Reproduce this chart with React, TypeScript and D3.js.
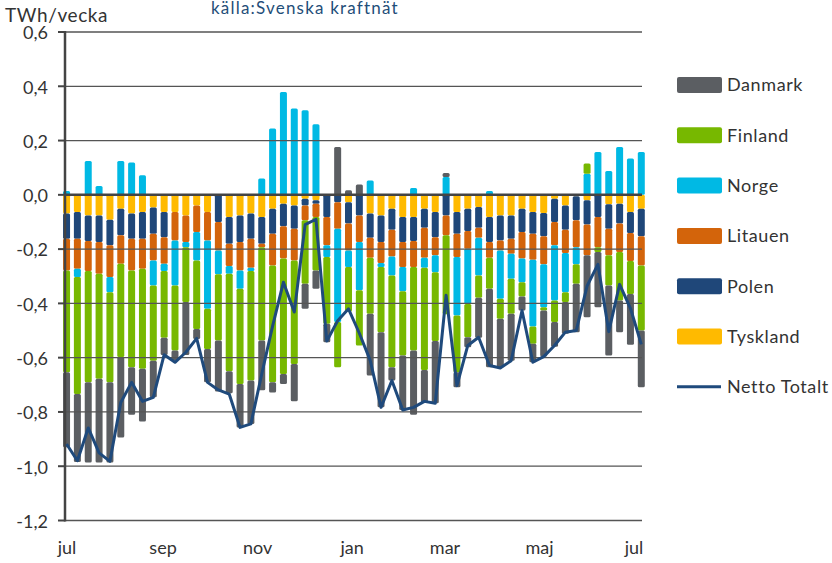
import * as d3 from "d3";

// veckor (måndag/tisdag-datum), jul 2019 - jul 2020
const weeks = [
  "2019-07-02", "2019-07-09", "2019-07-16", "2019-07-23", "2019-07-30",
  "2019-08-06", "2019-08-13", "2019-08-20", "2019-08-27",
  "2019-09-03", "2019-09-10", "2019-09-17", "2019-09-24",
  "2019-10-01", "2019-10-08", "2019-10-15", "2019-10-22", "2019-10-29",
  "2019-11-05", "2019-11-12", "2019-11-19", "2019-11-26",
  "2019-12-03", "2019-12-10", "2019-12-17", "2019-12-24", "2019-12-31",
  "2020-01-07", "2020-01-14", "2020-01-21", "2020-01-28",
  "2020-02-04", "2020-02-11", "2020-02-18", "2020-02-25",
  "2020-03-03", "2020-03-10", "2020-03-17", "2020-03-24", "2020-03-31",
  "2020-04-07", "2020-04-14", "2020-04-21", "2020-04-28",
  "2020-05-05", "2020-05-12", "2020-05-19", "2020-05-26",
  "2020-06-02", "2020-06-09", "2020-06-16", "2020-06-23", "2020-06-30",
  "2020-07-07",
];

const tyskland = [
  -0.069, -0.063, -0.076, -0.076, -0.092, -0.051, -0.069, -0.063, -0.047, -0.063,
  -0.063, -0.076, -0.039, -0.063, 0, -0.082, -0.076, -0.069, -0.082, -0.051,
  -0.033, -0.039, -0.014, -0.02, 0, 0, -0.027, 0, -0.069, -0.076,
  -0.051, -0.082, -0.082, -0.051, -0.063, 0, -0.063, -0.051, -0.045, -0.082,
  -0.076, -0.076, -0.051, -0.063, -0.067, -0.014, -0.039, -0.005, -0.02, 0,
  -0.035, -0.033, -0.063, -0.051,
];
const polen = [
  -0.093, -0.099, -0.094, -0.098, -0.094, -0.098, -0.093, -0.099, -0.096, -0.093,
  0, 0, 0, 0, -0.1, -0.098, -0.098, -0.093, -0.098, -0.092,
  -0.083, -0.086, -0.025, -0.013, -0.082, -0.027, -0.079, -0.076, -0.089, -0.098,
  -0.078, -0.092, -0.088, -0.07, -0.093, -0.076, -0.08, -0.082, -0.076, -0.092,
  -0.092, -0.086, -0.086, -0.08, -0.086, -0.086, -0.09, -0.089, -0.089, -0.082,
  -0.09, -0.073, -0.078, -0.102,
];
const litauen = [
  -0.117, -0.11, -0.111, -0.117, -0.117, -0.105, -0.117, -0.11, -0.099, -0.098,
  -0.105, -0.098, -0.098, -0.105, -0.105, -0.082, -0.105, -0.107, -0.013, -0.117,
  -0.119, -0.117, -0.055, -0.049, -0.104, -0.098, -0.099, -0.098, -0.074, -0.077,
  -0.098, -0.092, -0.096, -0.111, -0.067, -0.073, -0.086, -0.066, -0.037, -0.058,
  -0.037, -0.055, -0.098, -0.096, -0.103, -0.086, -0.085, -0.099, -0.114, -0.111,
  -0.098, -0.105, -0.103, -0.107,
];
const norge = [
  0.014, -0.031, 0.125, 0.033, -0.056, 0.125, 0.119, 0.072, -0.092, -0.027,
  -0.166, -0.019, -0.105, -0.252, -0.088, -0.029, -0.067, -0.012, 0.06, 0.244,
  0.379, 0.318, 0.312, 0.26, -0.043, -0.344, -0.061, -0.178, 0.053, -0.015,
  -0.07, -0.089, 0.025, -0.037, -0.062, 0.066, -0.216, -0.203, -0.139, 0.014,
  -0.178, -0.092, -0.087, -0.246, -0.158, -0.203, -0.145, -0.063, 0.078, 0.158,
  0.088, 0.176, 0.134, 0.158,
];
const finland = [
  -0.375, -0.431, -0.41, -0.387, -0.332, -0.344, -0.356, -0.369, -0.277, -0.246,
  -0.24, -0.202, -0.252, -0.148, -0.244, -0.359, -0.351, -0.403, -0.344, -0.431,
  -0.425, -0.381, -0.234, -0.197, -0.246, -0.166, -0.164, -0.203, -0.206, -0.24,
  -0.338, -0.237, -0.308, -0.376, -0.254, -0.291, -0.209, -0.123, -0.082, -0.114,
  -0.074, -0.129, -0.053, -0.064, -0.012, -0.08, -0.036, -0.072, 0.037, -0.018,
  -0.111, -0.178, -0.121, -0.24,
];
const danmark = [
  -0.276, -0.25, -0.295, -0.308, -0.295, -0.296, -0.175, -0.194, -0.135, -0.063,
  -0.036, -0.195, -0.037, -0.123, -0.188, -0.081, -0.16, -0.16, -0.183, -0.037,
  -0.037, -0.138, -0.092, -0.067, -0.068, 0.176, 0.017, 0.038, -0.228, -0.277,
  -0.049, -0.201, -0.236, -0.12, -0.229, 0.014, -0.055, -0.037, -0.148, -0.289,
  -0.178, -0.173, -0.051, -0.068, -0.17, -0.091, -0.117, -0.178, -0.228, -0.203,
  -0.258, -0.117, -0.187, -0.209,
];
const nettoTotalt = [
  -0.918, -0.98, -0.859, -0.951, -0.982, -0.765, -0.691, -0.761, -0.746, -0.589,
  -0.617, -0.58, -0.529, -0.691, -0.719, -0.734, -0.857, -0.844, -0.66, -0.484,
  -0.322, -0.432, -0.11, -0.09, -0.539, -0.464, -0.42, -0.51, -0.61, -0.783,
  -0.684, -0.793, -0.783, -0.761, -0.768, -0.37, -0.703, -0.555, -0.525, -0.629,
  -0.638, -0.611, -0.426, -0.617, -0.596, -0.555, -0.506, -0.5, -0.336, -0.256,
  -0.504, -0.33, -0.418, -0.551,
];

const monthNames = ["jan", "feb", "mar", "apr", "maj", "jun", "jul", "aug", "sep", "okt", "nov", "dec"];

// stackordning: första serien närmast noll
const stackKeys = ["Tyskland", "Polen", "Litauen", "Norge", "Finland", "Danmark"];
const legendKeys = ["Danmark", "Finland", "Norge", "Litauen", "Polen", "Tyskland"];
const colors: Record<string, string> = {
  Danmark: "#5b5e62",
  Finland: "#77b800",
  Norge: "#00b9e4",
  Litauen: "#d3640b",
  Polen: "#1f4779",
  Tyskland: "#ffba00",
};
const lineColor = "#1f4a7c";
const font = "Lato, 'Liberation Sans', sans-serif";

const svFormat = d3.formatLocale({
  decimal: ",",
  thousands: " ",
  grouping: [3],
  currency: ["", " kr"],
  minus: "-",
}).format(".1f");

export default function App() {
  const width = 832;
  const height = 563;
  const left = 65;
  const right = 642;
  const parse = d3.timeParse("%Y-%m-%d");
  const dates = weeks.map((w) => parse(w) as Date);

  const x = d3
    .scaleTime()
    .domain([parse("2019-07-01") as Date, parse("2020-07-01") as Date])
    .range([left, 632]);
  const y = d3.scaleLinear().domain([-1.2, 0.6]).range([520.5, 32]);

  const rows = dates.map((d, i) => ({
    date: d,
    Tyskland: tyskland[i],
    Polen: polen[i],
    Litauen: litauen[i],
    Norge: norge[i],
    Finland: finland[i],
    Danmark: danmark[i],
  }));
  const series = d3
    .stack<any>()
    .keys(stackKeys)
    .offset(d3.stackOffsetDiverging)(rows);

  const bw = 7;
  const yTicks = y.ticks(10);
  const xTicks = x.ticks(d3.timeMonth.every(2) as any);

  const line = d3
    .line<number>()
    .x((_, i) => x(dates[i]))
    .y((d) => y(d));

  return (
    <svg
      width={width}
      height={height}
      style={{ position: "absolute", left: 0, top: 0, background: "#fff" }}
      fontFamily={font}
    >
      {/* staplar */}
      {series.map((s) => (
        <g key={s.key} fill={colors[s.key]}>
          {s.map((d, i) => {
            const h = Math.abs(y(d[0]) - y(d[1]));
            if (h < 0.5) return null;
            return (
              <rect
                key={i}
                x={x(dates[i]) - bw / 2}
                y={y(Math.max(d[0], d[1]))}
                width={bw}
                height={h}
                rx={1.5}
              />
            );
          })}
        </g>
      ))}

      {/* stödlinjer */}
      {yTicks
        .filter((t) => Math.abs(t) > 1e-9)
        .map((t) => (
          <line key={t} x1={left} x2={right} y1={y(t)} y2={y(t)} stroke="#555" strokeWidth={1.3} />
        ))}
      <line x1={left} x2={right} y1={y(0)} y2={y(0)} stroke="#444" strokeWidth={2.5} />

      {/* y-axel */}
      <line x1={left} x2={left} y1={y(0.6) - 1} y2={y(-1.2) + 1} stroke="#444" strokeWidth={2.5} />
      {yTicks.map((t) => (
        <g key={t}>
          <line x1={left - 7} x2={left} y1={y(t)} y2={y(t)} stroke="#444" strokeWidth={2} />
          <text
            x={48}
            y={y(t) + 1}
            dy="0.35em"
            textAnchor="end"
            fontSize={18}
            fill="#333"
          >
            {svFormat(t)}
          </text>
        </g>
      ))}

      {/* x-etiketter */}
      {xTicks.map((t) => (
        <text
          key={+t}
          x={x(t) + 2}
          y={554}
          textAnchor="middle"
          fontSize={18}
          fill="#333"
        >
          {monthNames[t.getMonth()]}
        </text>
      ))}

      {/* nettolinje */}
      <path
        d={line(nettoTotalt) || ""}
        fill="none"
        stroke={lineColor}
        strokeWidth={3}
        strokeLinejoin="round"
      />

      {/* titlar */}
      <text x={5} y={22} fontSize={19} letterSpacing={0.6} fill="#333">
        TWh/vecka
      </text>
      <text x={211} y={14} fontSize={17} letterSpacing={1.2} fill="#1f4e79">
        källa:Svenska kraftnät
      </text>

      {/* legend */}
      {legendKeys.map((k, i) => {
        const cy = 85 + i * 50.3;
        return (
          <g key={k}>
            <rect x={677} y={cy - 8} width={45} height={16} rx={2} fill={colors[k]} />
            <text x={727} y={cy} dy="0.35em" fontSize={18} letterSpacing={0.6} fill="#333">
              {k}
            </text>
          </g>
        );
      })}
      <line
        x1={677}
        x2={721}
        y1={85 + 6 * 50.3}
        y2={85 + 6 * 50.3}
        stroke={lineColor}
        strokeWidth={3}
      />
      <text x={727} y={85 + 6 * 50.3} dy="0.35em" fontSize={18} letterSpacing={0.6} fill="#333">
        Netto Totalt
      </text>
    </svg>
  );
}
